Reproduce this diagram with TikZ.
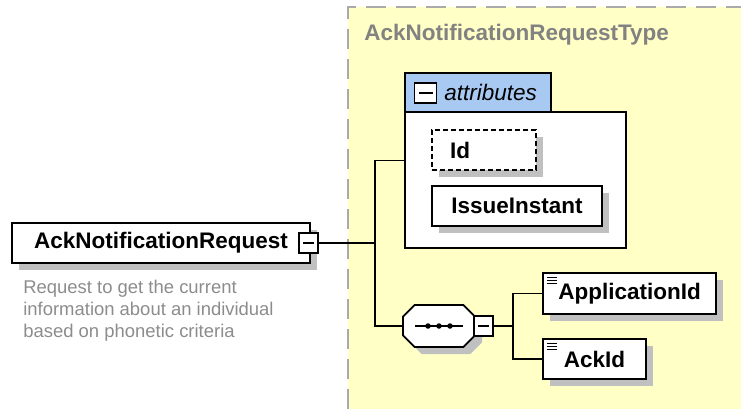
\documentclass[tikz,border=0pt]{standalone}
\usepackage{fontspec}
\setmainfont{Liberation Sans}
\usetikzlibrary{shapes.misc,shadows,calc}

\definecolor{typebg}{RGB}{255,255,198}
\definecolor{typeline}{RGB}{170,170,170}
\definecolor{typetitle}{RGB}{130,130,130}
\definecolor{attrblue}{RGB}{168,202,242}
\definecolor{shadowgray}{RGB}{192,192,192}
\definecolor{notegray}{RGB}{140,140,140}

\begin{document}
\begin{tikzpicture}[x=0.2mm, y=-0.2mm,
      elem/.style={rectangle, draw, line width=1pt, fill=white, inner sep=0pt,
        minimum height=8mm, font=\bfseries\fontsize{12.8}{15}\selectfont,
        drop shadow={shadow xshift=1.4mm, shadow yshift=-1.4mm, fill=shadowgray, opacity=1}},
      toggle/.style={rectangle, draw, line width=0.8pt, fill=white, inner sep=0pt,
        minimum width=3.8mm, minimum height=4mm,
        path picture={\draw ([xshift=0.8mm]path picture bounding box.west)
          -- ([xshift=-0.8mm]path picture bounding box.east);}},
      simple/.style={path picture={
        \foreach \dy in {0.8mm,1.4mm,2mm}
          \draw[line width=0.5pt] ([xshift=0.8mm,yshift=-\dy]path picture bounding box.north west)
            -- ([xshift=2.8mm,yshift=-\dy]path picture bounding box.north west);}},
      link/.style={line width=0.9pt}
      ]
      \useasboundingbox (0,0) rectangle (741,409);
      \fill[typebg] (348,7) rectangle (741,409);
      \draw[typeline, line width=1.2pt, dash pattern=on 4mm off 2mm] (348,409) -- (348,7) -- (741,7);
      \node[anchor=west, inner sep=0pt, text=typetitle, font=\bfseries\fontsize{12.8}{15}\selectfont]
        (typename) at (364,35) {AckNotificationRequestType};

      \node[elem, minimum width=59.6mm] (request) at (161,243) {AckNotificationRequest};
      \node[toggle] (requesttoggle) at (308.5,243) {};
      \node[anchor=north west, align=left, inner sep=0pt, text=notegray, font=\fontsize{10.5}{12.5}\selectfont]
        (requestnote) at (23,280) {Request to get the current\\information about an individual\\based on phonetic criteria};

      \node[draw, line width=1pt, fill=white, minimum width=44.2mm, minimum height=27.2mm] (attrbody) at (515.5,180) {};
      \node[draw, line width=1pt, fill=attrblue, minimum width=29.2mm, minimum height=7.8mm] (attrhead) at (478,92.5) {};
      \node[toggle, minimum width=4.4mm] (attrtoggle) at (425.5,93) {};
      \node[anchor=west, inner sep=0pt, font=\itshape\fontsize{12.8}{15}\selectfont] (attrlabel) at (444,92) {attributes};
      \node[elem, dash pattern=on 1mm off 0.6mm, align=left, text width=13.6mm, inner xsep=3.6mm] (id) at (484,150) {Id};
      \node[elem, minimum width=34mm] (issueinstant) at (517,206) {IssueInstant};

      \node[chamfered rectangle, chamfered rectangle xsep=2mm, draw, line width=1pt, fill=white,
        minimum width=14.4mm, minimum height=8.4mm,
        drop shadow={shadow xshift=1.4mm, shadow yshift=-1.4mm, fill=shadowgray, opacity=1},
        path picture={
          \draw[black, line width=0.8pt] ([xshift=-4.8mm]path picture bounding box.center) -- ([xshift=4.8mm]path picture bounding box.center);
          \foreach \dx in {-2.2mm,0mm,2.2mm}
            \fill[black] ([xshift=\dx]path picture bounding box.center) circle (0.55mm);}] (sequence) at (439,326) {};
      \node[toggle] (seqtoggle) at (483.5,326) {};

      \node[elem, simple, minimum width=34.6mm, minimum height=8.2mm] (appid) at (629.5,293.5) {ApplicationId};
      \node[elem, simple, minimum width=20.6mm] (ackid) at (594.5,359) {AckId};

      \coordinate (fork) at (375,243);
      \coordinate (attrin) at ($(attrhead.north west)!0.5!(attrbody.south west)$);
      \coordinate (seqfork) at (513,326);
      \draw[link] (requesttoggle.east) -- (fork);
      \draw[link] (attrin) -| (fork);
      \draw[link] (fork) |- (sequence.west);
      \draw[link] (seqtoggle.east) -- (seqfork);
      \draw[link] (appid.west) -| (seqfork) |- (ackid.west);
    \end{tikzpicture}
\end{document}
